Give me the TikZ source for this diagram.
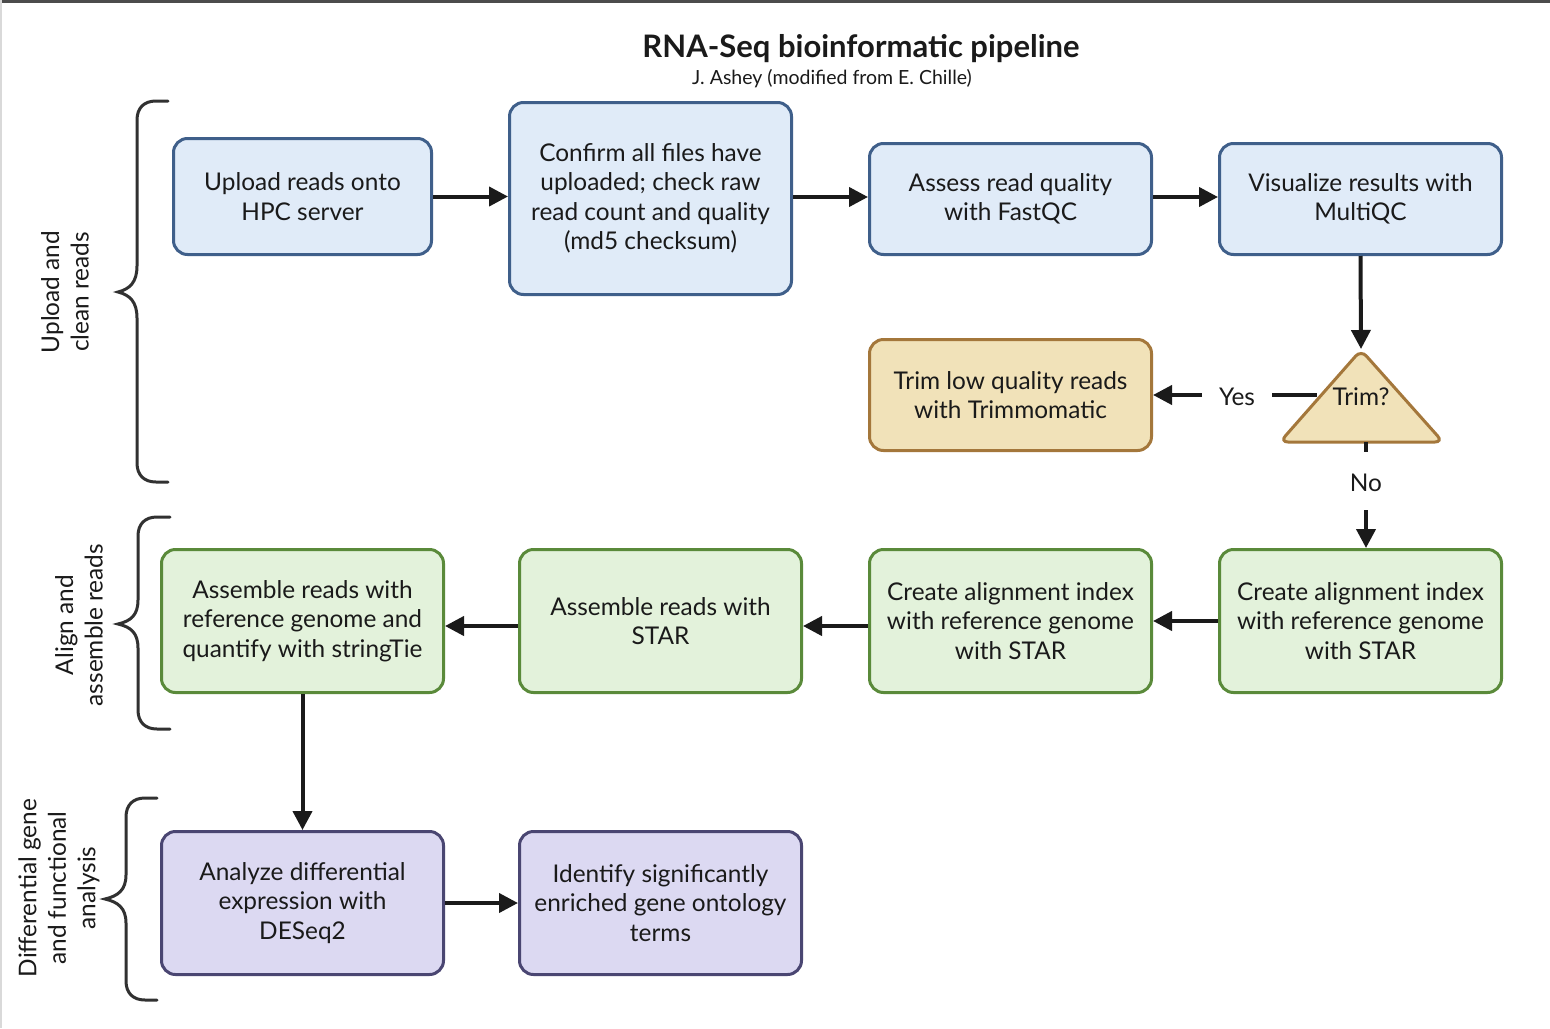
\documentclass[tikz,border=0pt]{standalone}
\usepackage{fontspec}
\setmainfont{Lato}
\usetikzlibrary{arrows.meta}
\definecolor{bfill}{HTML}{E0EBF8}
\definecolor{bdraw}{HTML}{3F5F8A}
\definecolor{tfill}{HTML}{F1E2B9}
\definecolor{tdraw}{HTML}{A4773B}
\definecolor{gfill}{HTML}{E3F2DB}
\definecolor{gdraw}{HTML}{5A8A3A}
\definecolor{pfill}{HTML}{DCD9F2}
\definecolor{pdraw}{HTML}{4A4672}
\definecolor{ink}{HTML}{1A1A1A}
\begin{document}
\begin{tikzpicture}[x=1pt,y=-1pt,
  box/.style={draw, line width=3pt, rounded corners=14pt, align=center, inner sep=0pt,
    text=ink, font=\fontsize{24.4}{29.5}\selectfont},
  blue/.style={box, fill=bfill, draw=bdraw},
  tan/.style={box, fill=tfill, draw=tdraw},
  green/.style={box, fill=gfill, draw=gdraw, minimum width=282pt, minimum height=143pt},
  purple/.style={box, fill=pfill, draw=pdraw, minimum width=282pt, minimum height=143pt},
  arr/.style={line width=4pt, draw=ink, -{Triangle[length=19pt,width=19pt]}},
  plain/.style={line width=4pt, draw=ink},
  brace/.style={line width=3pt, draw=ink!90, line cap=round},
  lbl/.style={text=ink, font=\fontsize{24.4}{29.5}\selectfont, align=center, inner sep=0pt},
  side/.style={lbl, rotate=90}
]
\useasboundingbox (0,0) rectangle (1550,1028);
\fill[white] (0,0) rectangle (1550,1028);
\fill[black!70] (0,0) rectangle (1550,2.5);
\fill[black!15] (0,0) rectangle (1.5,1028);

% title
\node[lbl, font=\bfseries\fontsize{31}{36}\selectfont] (title) at (861,49) {RNA-Seq bioinformatic pipeline};
\node[lbl, font=\fontsize{19.5}{22}\selectfont] (sub) at (832,79) {J. Ashey (modified from E. Chille)};

% row 1
\node[blue, minimum width=258pt, minimum height=116pt] (up) at (302.5,196.5) {Upload reads onto\\HPC server};
\node[blue, minimum width=282pt, minimum height=192pt] (conf) at (650.5,198.5) {Confirm all files have\\uploaded; check raw\\read count and quality\\(md5 checksum)};
\node[blue, minimum width=282pt, minimum height=111pt] (fq) at (1010.5,199) {Assess read quality\\with FastQC};
\node[blue, minimum width=282pt, minimum height=111pt] (mq) at (1360.5,199) {Visualize results with\\MultiQC};

\draw[arr] (up.east) -- (up.east -| conf.west);
\draw[arr] ([yshift=1.5pt]conf.east) -- ([yshift=1.5pt]conf.east -| fq.west);
\draw[arr] ([yshift=2pt]fq.east) -- ([yshift=2pt]mq.west);

% trim decision
\node[tan, minimum width=282pt, minimum height=111pt] (trimbox) at (1010.5,395) {Trim low quality reads\\with Trimmomatic};
\coordinate (apex) at (1361,350);
\coordinate (bl) at (1280,442);
\coordinate (br) at (1443,442);
\coordinate (baseend) at (1366,442);
\coordinate (yesA) at (1317,395);
\coordinate (yesB) at (1272,395);
\coordinate (yesC) at (1202,395);
\coordinate (noA) at (1366,452);
\coordinate (noB) at (1366,510);
\draw[arr] (mq.south) -- ([yshift=1pt]apex);
\draw[plain] (yesA) -- (yesB);
\filldraw[fill=tfill, draw=tdraw, line width=3pt, rounded corners=8pt] (apex) -- (br) -- (bl) -- cycle;
\node[lbl] (trimq) at (1361,397) {Trim?};
\node[lbl] (yes) at (1237,397) {Yes};
\node[lbl] (no) at (1366,483) {No};
\draw[arr] (yesC) -- (yesC -| trimbox.east);
\draw[plain] (baseend) -- (noA);

% row 2
\node[green] (s1) at (302.5,621) {Assemble reads with\\reference genome and\\quantify with stringTie};
\node[green] (s2) at (660.5,621) {Assemble reads with\\STAR};
\node[green] (s3) at (1010.5,621) {Create alignment index\\with reference genome\\with STAR};
\node[green] (s4) at (1360.5,621) {Create alignment index\\with reference genome\\with STAR};
\draw[arr] (noB) -- (noB |- s4.north);
\draw[arr] (s4.west) -- (s3.east);
\draw[arr] ([yshift=-5pt]s3.west) -- ([yshift=-5pt]s2.east);
\draw[arr] ([yshift=-5pt]s2.west) -- ([yshift=-5pt]s1.east);

% row 3
\node[purple] (d1) at (302.5,903) {Analyze differential\\expression with\\DESeq2};
\node[purple] (d2) at (660.5,903) {Identify significantly\\enriched gene ontology\\terms};
\draw[arr] (s1.south) -- (d1.north);
\draw[arr] (d1.east) -- (d2.west);

% braces
\draw[brace] (168,101) -- (156,101) .. controls (144,101) and (137,108) .. (137,120) -- (137,266)
  .. controls (137,282) and (130,289) .. (118,292)
  .. controls (130,295) and (137,302) .. (137,318) -- (137,463)
  .. controls (137,475) and (144,482) .. (156,482) -- (168,482);
\draw[brace] (170,517) -- (157,517) .. controls (145,517) and (138,524) .. (138,536) -- (138,600)
  .. controls (138,615) and (131,621) .. (118,624)
  .. controls (131,627) and (138,633) .. (138,648) -- (138,710)
  .. controls (138,722) and (145,729) .. (157,729) -- (170,729);
\draw[brace] (157,798) -- (145,798) .. controls (133,798) and (126,805) .. (126,817) -- (126,875)
  .. controls (126,890) and (118,896) .. (105,899)
  .. controls (118,902) and (126,908) .. (126,923) -- (126,981)
  .. controls (126,993) and (133,1000) .. (145,1000) -- (157,1000);

% side labels
\node[side] (l1) at (65,292) {Upload and\\clean reads};
\node[side] (l2) at (79,625) {Align and\\assemble reads};
\node[side] (l3) at (59,888) {Differential gene\\and functional\\analysis};
\end{tikzpicture}
\end{document}
